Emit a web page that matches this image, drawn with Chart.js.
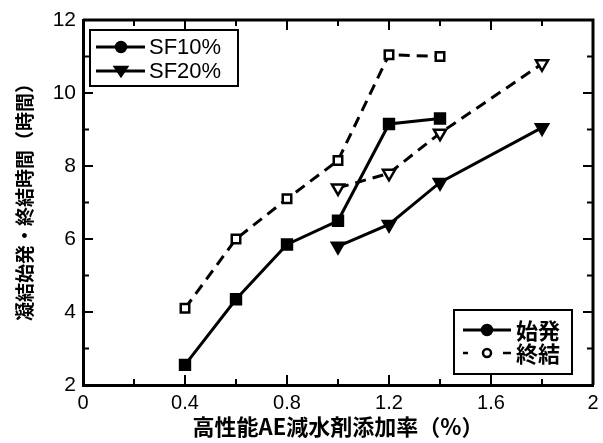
<!DOCTYPE html>
<html>
<head>
<meta charset="utf-8">
<script src="https://cdn.jsdelivr.net/npm/chart.js@4"></script>
<style>
  body { margin: 0; background: #fff; }
  #wrap { width: 603px; height: 443px; }
</style>
</head>
<body>
<div id="wrap"><canvas id="setting-time"></canvas></div>
<script>
// dosage of superplasticizer (%)
var sf10Dose = [0.4, 0.6, 0.8, 1.0, 1.2, 1.4];
var sf10Initial = [2.55, 4.35, 5.85, 6.5, 9.15, 9.3];
var sf10Final = [4.1, 6.0, 7.1, 8.15, 11.05, 11.0];

var sf20Dose = [1.0, 1.2, 1.4, 1.8];
var sf20Initial = [5.8, 6.4, 7.55, 9.05];
var sf20Final = [7.4, 7.8, 8.9, 10.8];

var xTicks = [0, 0.4, 0.8, 1.2, 1.6, 2];
var yTicks = [2, 4, 6, 8, 10, 12];

var yTitle = '凝結始発・終結時間（時間）';
var xTitle = '高性能AE減水剤添加率（%）';

function pts(xs, ys) {
    return xs.map(function (x, i) { return {x: x, y: ys[i]}; });
}

var jpFont = '"Noto Sans CJK JP", sans-serif';
var numFont = '"Liberation Sans", Arial, sans-serif';

// inward ticks on all four sides plus the top/right frame
const frameTicks = {
    id: 'frameTicks',
    afterDatasetsDraw(chart) {
        const c = chart.ctx, a = chart.chartArea;
        const x = chart.scales.x, y = chart.scales.y;
        c.save();
        c.strokeStyle = '#000';
        c.lineWidth = 2;
        for (let v = 0; v <= 2.0001; v += 0.2) {
            const px = x.getPixelForValue(v);
            const major = Math.round(v * 10) % 4 === 0;
            const len = major ? 10 : 6;
            c.beginPath();
            c.moveTo(px, a.bottom); c.lineTo(px, a.bottom - len);
            c.moveTo(px, a.top); c.lineTo(px, a.top + len);
            c.stroke();
        }
        for (let v = 2; v <= 12; v += 1) {
            const py = y.getPixelForValue(v);
            const len = v % 2 === 0 ? 10 : 6;
            c.beginPath();
            c.moveTo(a.left, py); c.lineTo(a.left + len, py);
            c.moveTo(a.right, py); c.lineTo(a.right - len, py);
            c.stroke();
        }
        c.lineWidth = 3;
        c.beginPath();
        c.moveTo(a.left, a.top); c.lineTo(a.right, a.top); c.lineTo(a.right, a.bottom);
        c.stroke();

        // vertical axis title, written top to bottom after rotation
        c.translate(25, (a.top + a.bottom) / 2 - 5);
        c.rotate(-Math.PI / 2);
        c.fillStyle = '#000';
        c.font = 'bold 19px ' + jpFont;
        c.textAlign = 'center';
        c.textBaseline = 'middle';
        c.fillText(yTitle, 0, 0);
        c.restore();
    }
};

function marker(c, kind, cx, cy, open) {
    c.beginPath();
    if (kind === 'circle') {
        c.arc(cx, cy, open ? 4 : 5, 0, Math.PI * 2);
    } else {
        c.moveTo(cx - 6, cy - 4); c.lineTo(cx + 6, cy - 4); c.lineTo(cx, cy + 5); c.closePath();
    }
    c.fillStyle = open ? '#fff' : '#000';
    c.fill();
    c.lineWidth = 2.5;
    c.stroke();
}

// the two boxed keys inside the plot
const keyBoxes = {
    id: 'keyBoxes',
    afterDraw(chart) {
        const c = chart.ctx;
        c.save();
        c.strokeStyle = '#000';
        c.textBaseline = 'middle';

        c.fillStyle = '#fff';
        c.fillRect(90, 30, 148, 56);
        c.lineWidth = 2;
        c.strokeRect(90, 30, 148, 56);
        [['SF10%', 'circle', 47], ['SF20%', 'tri', 71]].forEach(function (r) {
            c.lineWidth = 3;
            c.beginPath(); c.moveTo(96, r[2]); c.lineTo(145, r[2]); c.stroke();
            marker(c, r[1], 121, r[2], false);
            c.fillStyle = '#000';
            c.font = '22px ' + numFont;
            c.fillText(r[0], 149, r[2] + 1);
        });

        c.fillStyle = '#fff';
        c.fillRect(454, 310, 118, 64);
        c.lineWidth = 2;
        c.strokeRect(454, 310, 118, 64);
        c.lineWidth = 3;
        c.beginPath(); c.moveTo(463, 330); c.lineTo(511, 330); c.stroke();
        marker(c, 'circle', 487, 330, false);
        c.beginPath(); c.moveTo(463, 353); c.lineTo(468, 353); c.moveTo(503, 353); c.lineTo(511, 353); c.stroke();
        marker(c, 'circle', 487, 353, true);
        c.fillStyle = '#000';
        c.font = 'bold 22px ' + jpFont;
        c.fillText('始発', 516, 331);
        c.fillText('終結', 516, 354);
        c.restore();
    }
};

function series(data, style, dashed, filled) {
    var r = style === 'triangle' ? 7 : (filled ? 7 : 6);
    return {
        data: data,
        borderColor: '#000',
        borderWidth: 3,
        borderDash: dashed ? [11, 7] : [],
        pointStyle: style,
        pointRotation: style === 'triangle' ? 180 : 0,
        pointRadius: r,
        pointBorderWidth: 2.5,
        pointBorderColor: '#000',
        pointBackgroundColor: filled ? '#000' : '#fff',
        showLine: true,
        tension: 0
    };
}

new Chart(document.getElementById('setting-time'), {
    type: 'scatter',
    data: {
        datasets: [
            series(pts(sf10Dose, sf10Final), 'rect', true, false),
            series(pts(sf20Dose, sf20Final), 'triangle', true, false),
            series(pts(sf10Dose, sf10Initial), 'rect', false, true),
            series(pts(sf20Dose, sf20Initial), 'triangle', false, true)
        ]
    },
    options: {
        responsive: true,
        maintainAspectRatio: false,
        animation: false,
        layout: { padding: { top: 20, right: 10, left: 0, bottom: 0 } },
        plugins: { legend: { display: false }, tooltip: { enabled: false } },
        scales: {
            x: {
                type: 'linear',
                min: 0, max: 2,
                afterBuildTicks: function (s) { s.ticks = xTicks.map(function (v) { return {value: v}; }); },
                afterFit: function (s) { s.height = 58; s.paddingRight = 0; s.paddingLeft = 0; },
                grid: { drawOnChartArea: false, drawTicks: false },
                border: { color: '#000', width: 3 },
                ticks: { color: '#000', padding: 6, font: { family: numFont, size: 20 },
                         maxRotation: 0, callback: function (v) { return String(v); } },
                title: { display: true, text: xTitle, color: '#000',
                         padding: { top: 0, bottom: 3 }, font: { family: jpFont, size: 22, weight: 'bold' } }
            },
            y: {
                min: 2, max: 12,
                afterBuildTicks: function (s) { s.ticks = yTicks.map(function (v) { return {value: v}; }); },
                afterFit: function (s) { s.width = 83; s.paddingTop = 0; s.paddingBottom = 0; },
                grid: { drawOnChartArea: false, drawTicks: false },
                border: { color: '#000', width: 3 },
                ticks: { color: '#000', padding: 7, font: { family: numFont, size: 21 } },
                title: { display: false }
            }
        }
    },
    plugins: [frameTicks, keyBoxes]
});
</script>
</body>
</html>
